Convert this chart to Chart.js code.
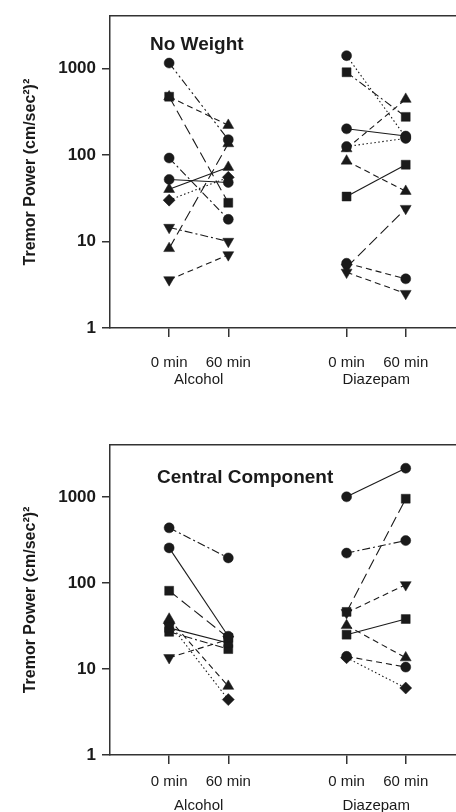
<!DOCTYPE html>
<html>
<head>
<meta charset="utf-8">
<script src="https://cdn.jsdelivr.net/npm/chart.js@4.4.1/dist/chart.umd.min.js"></script>
<style>
  body { margin: 0; background: #fff; }
  canvas { display: block; }
</style>
</head>
<body>
<canvas id="noWeight" width="456" height="406"></canvas>
<canvas id="central" width="456" height="406"></canvas>
<script>
const timeLabels = ['0 min', '60 min'];
const drugLabels = ['Alcohol', 'Diazepam'];
const yTickValues = [1, 10, 100, 1000];

// No Weight panel, one entry per subject
const noWeightAlcohol0 = [1150, 470, 470, 92, 52, 40, 30, 14.5, 8.3, 3.6];
const noWeightAlcohol60 = [150, 220, 28, 18, 48, 72, 55, 10, 135, 7];
const noWeightDiazepam0 = [1400, 900, 200, 125, 118, 85, 33, 5.6, 5.0, 4.4];
const noWeightDiazepam60 = [160, 275, 165, 155, 440, 38, 77, 3.7, 24, 2.5];

// Central Component panel
const centralAlcohol0 = [436, 255, 81, 38, 34, 30, 27, 13.5];
const centralAlcohol60 = [195, 24, 23, 6.3, 4.4, 20, 17, 22];
const centralDiazepam0 = [1000, 222, 46, 45, 32, 25, 14, 13.5];
const centralDiazepam60 = [2150, 310, 950, 95, 13.5, 38, 10.5, 6];

// marker + line style per subject
const noWeightAlcoholMarks = ['circle', 'triangle', 'rect', 'circle', 'circle', 'triangle', 'rectRot', 'triDown', 'triangle', 'triDown'];
const noWeightAlcoholLines = ['dashDotDot', 'dash', 'longDash', 'dashDot', 'solid', 'solid', 'dot', 'dashDot', 'longDash', 'dash'];
const noWeightDiazepamMarks = ['circle', 'rect', 'circle', 'circle', 'triangle', 'triangle', 'rect', 'circle', 'triDown', 'triDown'];
const noWeightDiazepamLines = ['dot', 'dashDot', 'solid', 'dot', 'dash', 'dash', 'solid', 'dash', 'longDash', 'dash'];
const centralAlcoholMarks = ['circle', 'circle', 'rect', 'triangle', 'rectRot', 'rect', 'rect', 'triDown'];
const centralAlcoholLines = ['dashDot', 'solid', 'longDash', 'dash', 'dot', 'solid', 'dashDot', 'dash'];
const centralDiazepamMarks = ['circle', 'circle', 'rect', 'triDown', 'triangle', 'rect', 'circle', 'rectRot'];
const centralDiazepamLines = ['solid', 'dashDot', 'longDash', 'dash', 'dash', 'solid', 'dash', 'dot'];

const FONT = '"Liberation Sans", Arial, Helvetica, sans-serif';
const INK = '#1a1a1a';

const markers = {
  circle: { pointStyle: 'circle', radius: 5, rotation: 0 },
  rect: { pointStyle: 'rect', radius: 6.3, rotation: 0 },
  triangle: { pointStyle: 'triangle', radius: 6.3, rotation: 0 },
  triDown: { pointStyle: 'triangle', radius: 6.3, rotation: 180 },
  rectRot: { pointStyle: 'rectRot', radius: 6, rotation: 0 }
};
const dashes = {
  solid: [], dash: [6, 4], longDash: [11, 5], dot: [1.5, 2.5],
  dashDot: [8, 3, 2, 3], dashDotDot: [8, 3, 2, 3, 2, 3]
};

// x position of time t in drug group g
function xPos(g, t) { return g * 3 + t + 1; }

function subjectSets(v0, v60, marks, lines, g) {
  return v0.map((v, i) => {
    const m = markers[marks[i]];
    return {
      data: [{ x: xPos(g, 0), y: v }, { x: xPos(g, 1), y: v60[i] }],
      showLine: true,
      borderColor: INK,
      borderWidth: 1.1,
      borderDash: dashes[lines[i]],
      pointStyle: m.pointStyle,
      pointRadius: m.radius,
      pointRotation: m.rotation,
      pointBackgroundColor: INK,
      pointBorderColor: INK,
      pointBorderWidth: 0.5
    };
  });
}

const panelLabel = {
  id: 'panelLabel',
  afterDraw(chart, args, opts) {
    const { ctx, chartArea } = chart;
    ctx.save();
    ctx.font = 'bold 19px ' + FONT;
    ctx.fillStyle = INK;
    ctx.textBaseline = 'middle';
    ctx.fillText(opts.text, chartArea.left + opts.dx, chartArea.top + opts.dy);
    ctx.restore();
  }
};

function makeChart(id, sets, label, dx, dy, padTop, tickPad, xH, x2H, groupPad) {
  return new Chart(document.getElementById(id), {
    type: 'scatter',
    data: { datasets: sets },
    plugins: [panelLabel],
    options: {
      responsive: false,
      animation: false,
      layout: { autoPadding: false, padding: { top: padTop, left: 0, right: 0, bottom: 0 } },
      plugins: {
        legend: { display: false },
        tooltip: { enabled: false },
        panelLabel: { text: label, dx: dx, dy: dy }
      },
      scales: {
        x: {
          type: 'linear', min: 0, max: 5.85,
          afterBuildTicks: s => { s.ticks = [xPos(0, 0), xPos(0, 1), xPos(1, 0), xPos(1, 1)].map(v => ({ value: v })); },
          afterFit: s => { s.height = xH; },
          ticks: {
            callback: v => timeLabels[(v - 1) % 3],
            font: { family: FONT, size: 15 }, color: INK, padding: tickPad, maxRotation: 0
          },
          grid: { drawOnChartArea: false, drawTicks: true, tickLength: 9, color: '#333', lineWidth: 1.5 },
          border: { color: '#333', width: 1.5 }
        },
        x2: {
          type: 'linear', position: 'bottom', min: 0, max: 5.85,
          afterBuildTicks: s => { s.ticks = [1.5, 4.5].map(v => ({ value: v })); },
          afterFit: s => { s.height = x2H; },
          ticks: {
            callback: v => drugLabels[v < 3 ? 0 : 1],
            font: { family: FONT, size: 15 }, color: INK, padding: groupPad, maxRotation: 0
          },
          grid: { display: false },
          border: { display: false }
        },
        xTop: {
          type: 'linear', position: 'top', min: 0, max: 5.85,
          afterFit: s => { s.height = 0; },
          ticks: { display: false },
          grid: { display: false },
          border: { color: '#333', width: 1.5 }
        },
        y: {
          type: 'logarithmic', min: 1, max: 4000,
          afterBuildTicks: s => { s.ticks = yTickValues.map(v => ({ value: v })); },
          afterFit: s => { s.width = 110; },
          ticks: {
            callback: v => String(v),
            font: { family: FONT, size: 17, weight: 'bold' }, color: INK, padding: 6
          },
          grid: { drawOnChartArea: false, drawTicks: true, tickLength: 8, color: '#333', lineWidth: 1.5 },
          border: { color: '#333', width: 1.5 },
          title: {
            display: true, text: 'Tremor Power (cm/sec\u00B2)\u00B2',
            font: { family: FONT, size: 16, weight: 'bold' }, color: INK,
            padding: { top: 21, bottom: 0 }
          }
        }
      }
    }
  });
}

makeChart('noWeight',
  subjectSets(noWeightAlcohol0, noWeightAlcohol60, noWeightAlcoholMarks, noWeightAlcoholLines, 0)
    .concat(subjectSets(noWeightDiazepam0, noWeightDiazepam60, noWeightDiazepamMarks, noWeightDiazepamLines, 1)),
  'No Weight', 40, 29, 13, 17, 41, 37, -6);

makeChart('central',
  subjectSets(centralAlcohol0, centralAlcohol60, centralAlcoholMarks, centralAlcoholLines, 0)
    .concat(subjectSets(centralDiazepam0, centralDiazepam60, centralDiazepamMarks, centralDiazepamLines, 1)),
  'Central Component', 47, 33, 39, 9, 36, 21, -2);
</script>
</body>
</html>
